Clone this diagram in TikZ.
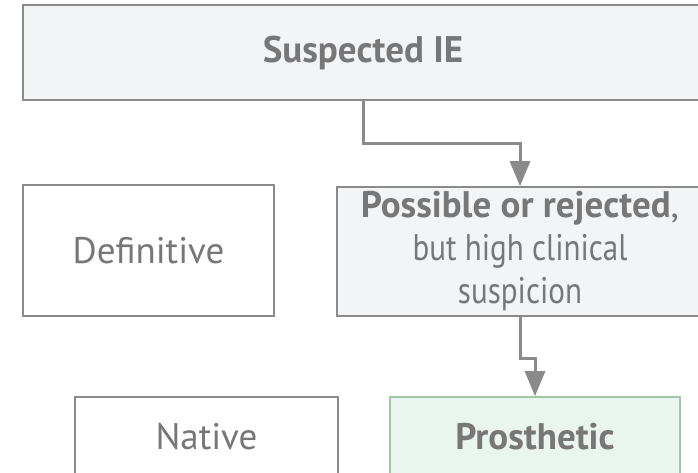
\documentclass[tikz,border=0pt]{standalone}
\usepackage{fontspec}
\setmainfont{PT Sans}
\newfontfamily\narrowfont[FakeStretch=0.84]{PT Sans}
\usepackage{tikz}
\usetikzlibrary{arrows.meta, positioning, calc}

\definecolor{linegray}{HTML}{8A8A8A}
\definecolor{textgray}{HTML}{777777}
\definecolor{panefill}{HTML}{F3F4F6}
\definecolor{greenfill}{HTML}{EBF5EF}
\definecolor{greenline}{HTML}{A3C4A5}

\begin{document}
\begin{tikzpicture}[
  x=1pt, y=-1pt,
  box/.style={draw=linegray, line width=1.6pt, fill=white, inner sep=0pt, align=center,
    text=textgray, font=\fontsize{37}{43}\selectfont},
  arr/.style={-{Triangle[length=25pt, width=20pt]}, draw=linegray, line width=3pt}
]
\useasboundingbox (0,0) rectangle (698,472);
\clip (0,0) rectangle (698,472);

\node[box, fill=panefill, minimum width=680pt, minimum height=95pt] (suspected) at (363, 52.5) {\textbf{Suspected IE}};
\node[box, minimum width=251pt, minimum height=131pt] (definitive) at (148.5, 250.5) {Definitive};
\node[box, fill=panefill, minimum width=366pt, minimum height=129pt] (possible) at (520, 251.5)
  {\textbf{Possible or rejected}, \\ {\narrowfont but high clinical} \\ {\narrowfont suspicion}};
\node[box, minimum width=263pt, minimum height=80pt] (native) at (206.5, 437) {Native};
\node[box, draw=greenline, fill=greenfill, minimum width=290pt, minimum height=80pt] (prosthetic) at (535, 437) {\textbf{Prosthetic}};

\draw[arr] (suspected.south) -- ++(0,43) -| (possible.north);
\draw[arr] (possible.south) -- ++(0,42) -| (prosthetic.north);

\end{tikzpicture}
\end{document}
